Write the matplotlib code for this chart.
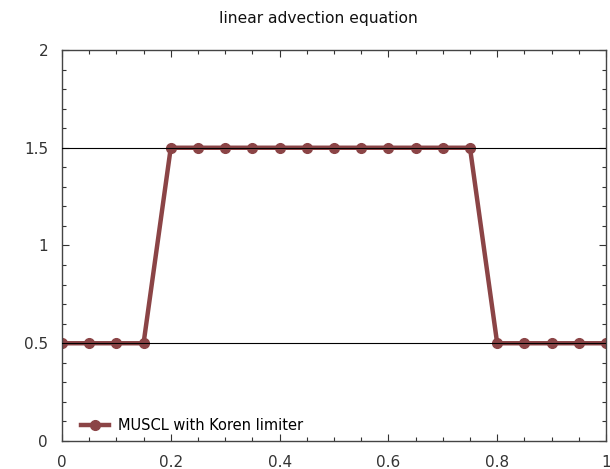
import matplotlib
matplotlib.use('Agg')
import matplotlib.pyplot as plt
import numpy as np
from matplotlib.ticker import MultipleLocator

# data
x_vals = [0.0, 0.05, 0.1, 0.15, 0.2, 0.25, 0.3, 0.35, 0.4, 0.45, 0.5,
          0.55, 0.6, 0.65, 0.7, 0.75, 0.8, 0.85, 0.9, 0.95, 1.0]
u_vals = [0.5, 0.5, 0.5, 0.5, 1.5, 1.5, 1.5, 1.5, 1.5, 1.5, 1.5,
          1.5, 1.5, 1.5, 1.5, 1.5, 0.5, 0.5, 0.5, 0.5, 0.5]
ref_levels = [0.5, 1.5]
x_ticks = [0, 0.2, 0.4, 0.6, 0.8, 1]
x_labels = ['0', '0.2', '0.4', '0.6', '0.8', '1']
y_ticks = [0, 0.5, 1, 1.5, 2]
y_labels = ['0', '0.5', '1', '1.5', '2']

plt.rcParams['font.family'] = ['DejaVu Sans']

fig = plt.figure(figsize=(6.1, 4.69), dpi=100)
ax = fig.add_axes([0.1016, 0.0597, 0.8918, 0.8337])

ax.plot(x_vals, u_vals, '-', color='#8b4446', linewidth=3.2, marker='o',
        markersize=7, label='MUSCL with Koren limiter', zorder=2)
for lv in ref_levels:
    ax.axhline(lv, color='black', linewidth=0.8, zorder=3)

ax.set_xlim(0, 1)
ax.set_ylim(0, 2)
ax.set_xticks(x_ticks, x_labels)
ax.set_yticks(y_ticks, y_labels)
ax.xaxis.set_minor_locator(MultipleLocator(0.05))
ax.yaxis.set_minor_locator(MultipleLocator(0.1))
ax.tick_params(which='both', direction='in', top=True, right=True,
               colors='#333333', labelcolor='#333333', labelsize=11)
ax.tick_params(axis='x', pad=10)
ax.tick_params(axis='y', pad=10)
ax.tick_params(which='major', length=5, width=0.8)
ax.tick_params(which='minor', length=3, width=0.8)
for s in ax.spines.values():
    s.set_color('#444444')
    s.set_linewidth(1.0)

fig.text(318 / 610, 1 - 18 / 469, 'linear advection equation', fontsize=11.2,
         color='#111111', ha='center', va='center')
ax.legend(loc='lower left', frameon=False, fontsize=10.5, handlelength=1.9,
          handletextpad=0.6, borderaxespad=0.0, bbox_to_anchor=(0.025, 0.005))

fig.savefig('out.png', dpi=100)
